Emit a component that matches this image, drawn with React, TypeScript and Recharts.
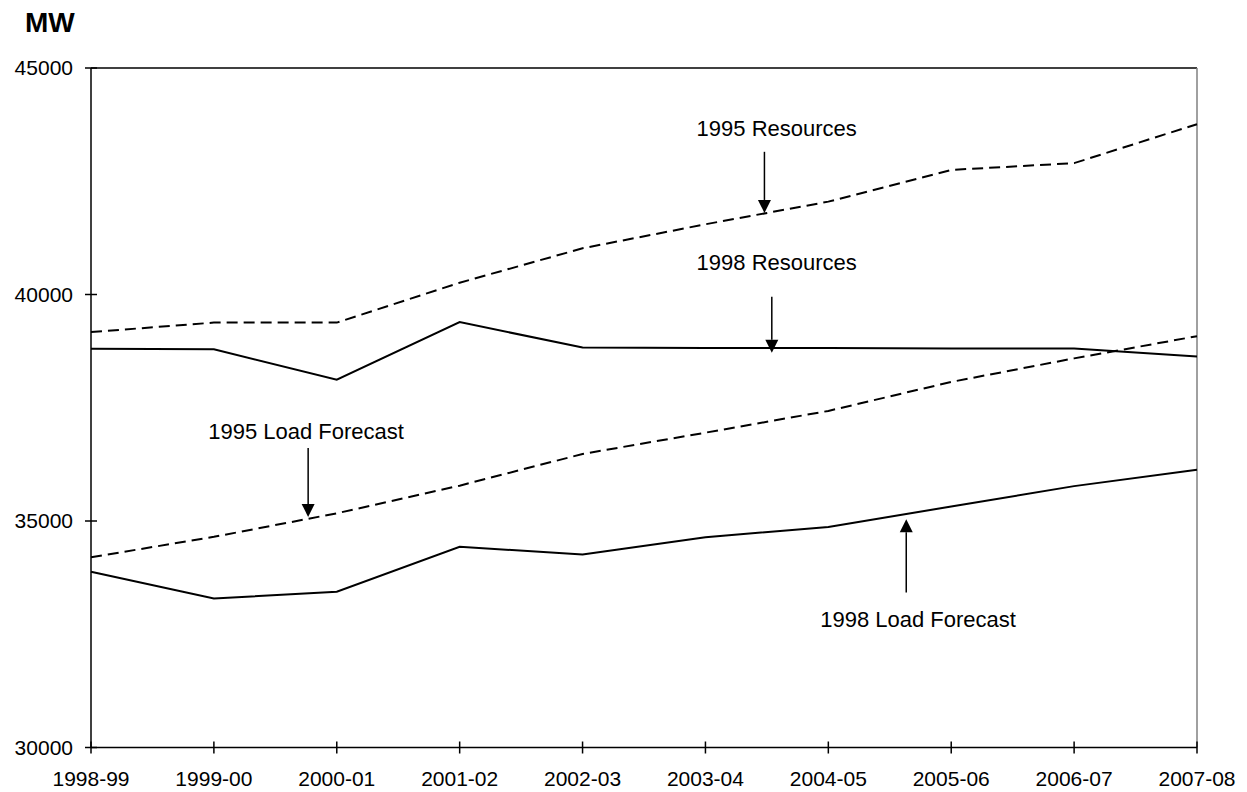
import { LineChart, Line, XAxis, YAxis, ReferenceLine, ReferenceDot } from 'recharts'

const categories = ['1998-99', '1999-00', '2000-01', '2001-02', '2002-03', '2003-04', '2004-05', '2005-06', '2006-07', '2007-08']
const resources1995 = [39170, 39380, 39380, 40260, 41020, 41550, 42050, 42750, 42900, 43760]
const resources1998 = [38800, 38790, 38120, 39390, 38830, 38820, 38820, 38810, 38810, 38630]
const loadForecast1995 = [34200, 34650, 35170, 35780, 36480, 36950, 37430, 38070, 38590, 39080]
const loadForecast1998 = [33880, 33290, 33440, 34430, 34260, 34640, 34870, 35320, 35770, 36130]
const yTicks = [30000, 35000, 40000, 45000]

// callouts: x is a fractional category index, y values in MW
const callouts = [
  { text: '1995 Resources', tx: 5.58, ty: 43680, ax: 5.48, from: 43150, to: 41800 },
  { text: '1998 Resources', tx: 5.58, ty: 40720, ax: 5.54, from: 39950, to: 38715 },
  { text: '1995 Load Forecast', tx: 1.75, ty: 36990, ax: 1.767, from: 36610, to: 35090 },
  { text: '1998 Load Forecast', tx: 6.73, ty: 32830, ax: 6.634, from: 33420, to: 35040 },
]

const FONT = '"Liberation Sans", Arial, sans-serif'

const chartData = categories.map((c, i) => ({
  i,
  name: c,
  r95: resources1995[i],
  r98: resources1998[i],
  l95: loadForecast1995[i],
  l98: loadForecast1998[i],
}))

function YTick(props: any) {
  const { x, y, payload } = props
  const axisX = x + 18
  return (
    <g>
      <line x1={axisX - 6} x2={axisX + 6} y1={y} y2={y} stroke="#000" strokeWidth={1.5} />
      <text x={x} y={y} dy="0.355em" textAnchor="end" fontSize={21} fontFamily={FONT} fill="#000">
        {payload.value}
      </text>
    </g>
  )
}

function XTick(props: any) {
  const { x, y, payload } = props
  const axisY = y - 24
  return (
    <g>
      <line x1={x} x2={x} y1={axisY - 6} y2={axisY + 6} stroke="#000" strokeWidth={1.5} />
      <text x={x} y={y} dy="0.71em" textAnchor="middle" fontSize={21} fontFamily={FONT} fill="#000">
        {categories[payload.value]}
      </text>
    </g>
  )
}

function Arrow(props: any) {
  const { x1, y1, x2, y2 } = props
  const dx = x2 - x1
  const dy = y2 - y1
  const len = Math.hypot(dx, dy) || 1
  const ux = dx / len
  const uy = dy / len
  const head = 13
  const half = 6.5
  const bx = x2 - ux * head
  const by = y2 - uy * head
  const pts = `${x2},${y2} ${bx - uy * half},${by + ux * half} ${bx + uy * half},${by - ux * half}`
  return (
    <g>
      <line x1={x1} y1={y1} x2={bx} y2={by} stroke="#000" strokeWidth={1.5} />
      <polygon points={pts} fill="#000" />
    </g>
  )
}

export default function App() {
  return (
    <div style={{ position: 'relative', width: 1239, height: 784, background: '#fff' }}>
      <div
        style={{
          position: 'absolute',
          left: 17,
          top: 1,
          fontFamily: FONT,
          fontWeight: 'bold',
          fontSize: 28,
          lineHeight: 1,
          color: '#000',
        }}
      >
        MW
      </div>
      <LineChart
        width={1239}
        height={784}
        data={chartData}
        margin={{ top: 60, right: 50, left: 0, bottom: 14.5 }}
      >
        <XAxis
          dataKey="i"
          type="number"
          domain={[0, 9]}
          ticks={[0, 1, 2, 3, 4, 5, 6, 7, 8, 9]}
          interval={0}
          height={30}
          tickSize={6}
          tickMargin={18}
          tickLine={false}
          axisLine={{ stroke: '#000', strokeWidth: 1.5 }}
          tick={<XTick />}
        />
        <YAxis
          type="number"
          domain={[30000, 45000]}
          ticks={yTicks}
          interval={0}
          width={83}
          tickSize={6}
          tickMargin={12}
          tickLine={false}
          axisLine={{ stroke: '#000', strokeWidth: 1.5 }}
          tick={<YTick />}
        />
        <ReferenceLine y={45000} stroke="#000" strokeWidth={1.5} />
        <ReferenceLine x={9} stroke="#808080" strokeWidth={1.5} />
        <Line dataKey="r95" stroke="#000" strokeWidth={2} strokeDasharray="11 6" dot={false} isAnimationActive={false} />
        <Line dataKey="r98" stroke="#000" strokeWidth={2} dot={false} isAnimationActive={false} />
        <Line dataKey="l95" stroke="#000" strokeWidth={2} strokeDasharray="11 6" dot={false} isAnimationActive={false} />
        <Line dataKey="l98" stroke="#000" strokeWidth={2} dot={false} isAnimationActive={false} />
        {callouts.map((c) => (
          <ReferenceLine
            key={c.text + '-arrow'}
            segment={[
              { x: c.ax, y: c.from },
              { x: c.ax, y: c.to },
            ]}
            shape={(p: any) => <Arrow {...p} />}
          />
        ))}
        {callouts.map((c) => (
          <ReferenceDot
            key={c.text}
            x={c.tx}
            y={c.ty}
            r={0}
            shape={(p: any) => (
              <text x={p.cx} y={p.cy} dy="0.355em" textAnchor="middle" fontSize={22} fontFamily={FONT} fill="#000">
                {c.text}
              </text>
            )}
          />
        ))}
      </LineChart>
    </div>
  )
}
